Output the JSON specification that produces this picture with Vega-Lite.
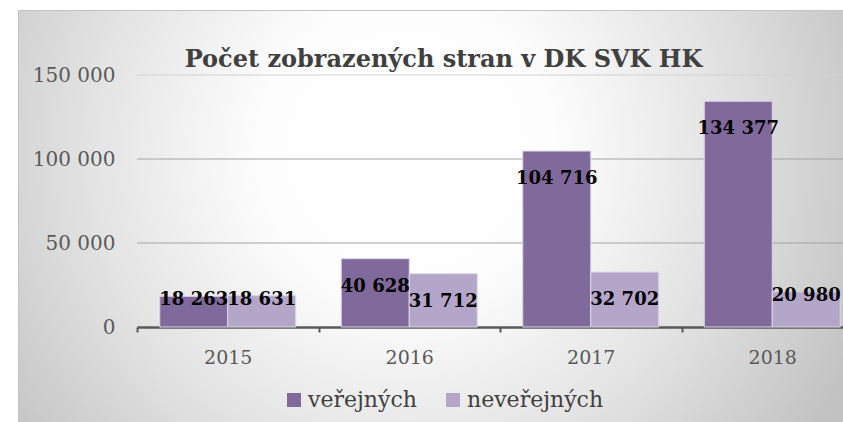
{
  "$schema": "https://vega.github.io/schema/vega-lite/v6.json",
  "autosize": "none",
  "width": 825,
  "height": 412,
  "padding": {"left": 18, "top": 10, "right": 0, "bottom": 0},
  "background": "#ffffff",
  "title": {
    "text": "Počet zobrazených stran v DK SVK HK",
    "font": "DejaVu Serif",
    "fontSize": 24,
    "fontWeight": "bold",
    "color": "#404040",
    "anchor": "middle",
    "frame": "group",
    "baseline": "alphabetic",
    "offset": -81,
    "dx": 13
  },
  "config": {
    "view": {
      "fill": {
        "gradient": "radial",
        "x1": 0.47, "y1": 0.42, "r1": 0,
        "x2": 0.47, "y2": 0.42, "r2": 0.6,
        "stops": [
          {"offset": 0, "color": "#ffffff"},
          {"offset": 0.3, "color": "#fdfdfd"},
          {"offset": 0.65, "color": "#e2e2e2"},
          {"offset": 1, "color": "#c2c2c2"}
        ]
      },
      "stroke": "#c4c4c4",
      "strokeWidth": 1
    },
    "locale": {
      "number": {"decimal": ",", "thousands": " ", "grouping": [3], "currency": ["", " Kč"]}
    }
  },
  "data": {
    "values": [
      {"rok": "2015", "typ": "veřejných", "pocet": 18263},
      {"rok": "2015", "typ": "neveřejných", "pocet": 18631},
      {"rok": "2016", "typ": "veřejných", "pocet": 40628},
      {"rok": "2016", "typ": "neveřejných", "pocet": 31712},
      {"rok": "2017", "typ": "veřejných", "pocet": 104716},
      {"rok": "2017", "typ": "neveřejných", "pocet": 32702},
      {"rok": "2018", "typ": "veřejných", "pocet": 134377},
      {"rok": "2018", "typ": "neveřejných", "pocet": 20980}
    ]
  },
  "layer": [
    {
      "data": {"values": [{"g": 50000}, {"g": 100000}]},
      "mark": {"type": "rule", "color": "#a3a3a3", "strokeWidth": 1},
      "encoding": {
        "y": {
          "field": "g", "type": "quantitative",
          "scale": {"domain": [0, 150000], "range": [317, 65], "nice": false},
          "axis": {
            "offset": -119, "title": null, "domain": false, "ticks": false, "grid": false,
            "values": [0, 50000, 100000, 150000],
            "labelExpr": "format(datum.value, ',d')",
            "labelFont": "DejaVu Serif", "labelFontSize": 20, "labelColor": "#595959", "labelPadding": 22
          }
        },
        "x": {"datum": 0, "type": "quantitative", "scale": {"domain": [0, 1], "range": [119, 845]}, "axis": null},
        "x2": {"datum": 1}
      }
    },
    {
      "data": {"values": [{"g": 150000}]},
      "mark": {"type": "rule", "color": "#d2d2d2", "strokeWidth": 1},
      "encoding": {
        "y": {"field": "g", "type": "quantitative"},
        "x": {"datum": 0, "type": "quantitative", "scale": {"domain": [0, 1], "range": [119, 845]}, "axis": null},
        "x2": {"datum": 1}
      }
    },
    {
      "layer": [
        {
          "mark": {"type": "bar", "stroke": "#ddd5e7", "strokeWidth": 1},
          "encoding": {
            "x": {
              "field": "rok", "type": "nominal",
              "scale": {"domain": ["2015", "2016", "2017", "2018"], "range": [119, 845], "paddingInner": 0, "paddingOuter": 0},
              "axis": {
                "orient": "bottom", "offset": -95, "title": null, "labelAngle": 0,
                "domainColor": "#595959", "domainWidth": 2.5,
                "tickBand": "extent", "tickColor": "#595959", "tickWidth": 2, "tickSize": 5,
                "labelFont": "DejaVu Serif", "labelFontSize": 19, "labelColor": "#595959", "labelPadding": 16
              }
            },
            "xOffset": {
              "field": "typ", "type": "nominal",
              "scale": {"domain": ["veřejných", "neveřejných"], "paddingInner": 0, "paddingOuter": 0.335}
            },
            "y": {"field": "pocet", "type": "quantitative"},
            "color": {
              "field": "typ", "type": "nominal",
              "scale": {"domain": ["veřejných", "neveřejných"], "range": ["#806a9b", "#b4a6c8"]},
              "legend": {
                "title": null, "orient": "none", "legendX": 265, "legendY": 379, "direction": "horizontal",
                "symbolType": "square", "symbolSize": 196, "symbolStrokeWidth": 0, "symbolOpacity": 1,
                "labelFont": "DejaVu Serif", "labelFontSize": 22, "labelColor": "#404040",
                "labelOffset": 3, "columnPadding": 25, "padding": 0
              }
            }
          }
        },
        {
          "transform": [{"filter": "datum.pocet >= 30000"}],
          "mark": {"type": "text", "font": "DejaVu Serif", "fontWeight": "bold", "fontSize": 18, "color": "#000000", "baseline": "middle", "align": "center", "dy": 28},
          "encoding": {
            "x": {"field": "rok", "type": "nominal", "scale": {"domain": ["2015", "2016", "2017", "2018"]}},
            "xOffset": {"field": "typ", "type": "nominal"},
            "y": {"field": "pocet", "type": "quantitative"},
            "text": {"field": "pocet", "type": "quantitative", "format": ","}
          }
        },
        {
          "transform": [{"filter": "datum.pocet < 30000"}],
          "mark": {"type": "text", "font": "DejaVu Serif", "fontWeight": "bold", "fontSize": 18, "color": "#000000", "baseline": "middle", "align": "center", "dy": 4},
          "encoding": {
            "x": {"field": "rok", "type": "nominal", "scale": {"domain": ["2015", "2016", "2017", "2018"]}},
            "xOffset": {"field": "typ", "type": "nominal"},
            "y": {"field": "pocet", "type": "quantitative"},
            "text": {"field": "pocet", "type": "quantitative", "format": ","}
          }
        }
      ]
    }
  ],
  "resolve": {"scale": {"x": "independent"}}
}
